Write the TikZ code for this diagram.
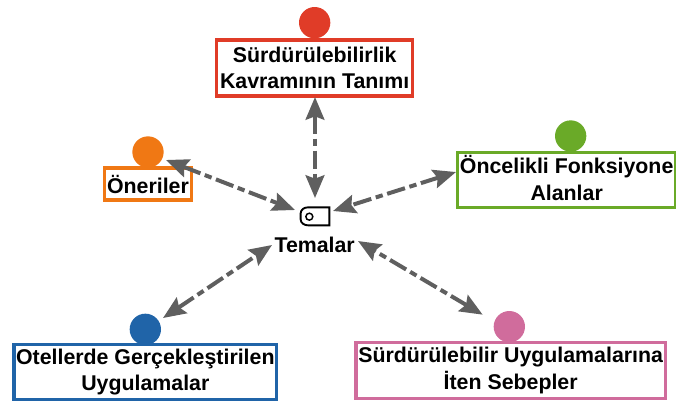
\documentclass[tikz,border=0pt]{standalone}
\usepackage{fontspec}
\setmainfont{Liberation Sans}
\usetikzlibrary{arrows.meta}
\definecolor{linkgray}{HTML}{5F5F5F}
\definecolor{redc}{HTML}{E03C28}
\definecolor{orangec}{HTML}{F07814}
\definecolor{greenc}{HTML}{6AAA28}
\definecolor{bluec}{HTML}{2064A8}
\definecolor{pinkc}{HTML}{D06C9C}
\tikzset{
  lbl/.style={draw, line width=2.4pt, align=center, font=\bfseries\fontsize{16}{20}\selectfont, inner sep=0pt, anchor=center},
  dot/.style={circle, inner sep=0pt, minimum size=23.5pt},
  link/.style={{Stealth[length=17pt,width=14pt,inset=2.5pt]}-{Stealth[length=17pt,width=14pt,inset=2.5pt]}, linkgray, line width=3pt, dash pattern=on 14pt off 3.5pt on 5.5pt off 3.5pt},
}
\begin{document}
\begin{tikzpicture}[x=1pt,y=-1pt]
\useasboundingbox (0,0) rectangle (507,300.75);
% theme
\node[inner sep=0pt] (hub) at (236,162.5) {};
\node[font=\bfseries\fontsize{16}{18}\selectfont] (tema) at (236,183.5) {Temalar};
\draw[line width=1.4pt] (247,155.5) -- (231,155.5) to[out=180,in=90] (225.5,160) -- (225.5,164.5) to[out=-90,in=180] (231,169) -- (247,169) -- cycle;
\draw[line width=1.1pt] (232,162.5) circle (2.6pt);
% boxes
\node[dot,fill=redc] (d1) at (236,17) {};
\node[lbl,draw=redc,minimum width=147pt,minimum height=42pt] (b1) at (236,51) {Sürdürülebilirlik\\Kavramının Tanımı};
\node[dot,fill=orangec] (d2) at (111,114) {};
\node[lbl,draw=orangec,minimum width=65pt,minimum height=24pt] (b2) at (111,138) {Öneriler};
\node[dot,fill=greenc] (d3) at (428,102) {};
\node[lbl,draw=greenc,minimum width=164pt,minimum height=41pt] (b3) at (425,135) {Öncelikli Fonksiyone\\Alanlar\rule[-3pt]{0pt}{1pt}};
\node[dot,fill=bluec] (d4) at (109,247) {};
\node[lbl,draw=bluec,minimum width=197pt,minimum height=41pt] (b4) at (109,279) {Otellerde Gerçekleştirilen\\Uygulamalar};
\node[dot,fill=pinkc] (d5) at (382,245) {};
\node[lbl,draw=pinkc,minimum width=232pt,minimum height=42pt] (b5) at (383,278) {Sürdürülebilir Uygulamalarına\\İten Sebepler};
% links
\coordinate (h1) at (236.25,148.5);
\coordinate (h2) at (221.25,157.5);
\coordinate (h3) at (249.75,158.25);
\coordinate (h4) at (204,183.75);
\coordinate (h5) at (268.5,180.75);
\coordinate (e1) at (236.25,72.75);
\coordinate (e2) at (124.5,120);
\coordinate (e3) at (342,129);
\coordinate (e4) at (122.25,238.5);
\coordinate (e5) at (362,236);
\draw[link] (e1) -- (h1);
\draw[link] (e2) -- (h2);
\draw[link] (e3) -- (h3);
\draw[link] (e4) -- (h4);
\draw[link] (e5) -- (h5);
\end{tikzpicture}
\end{document}
